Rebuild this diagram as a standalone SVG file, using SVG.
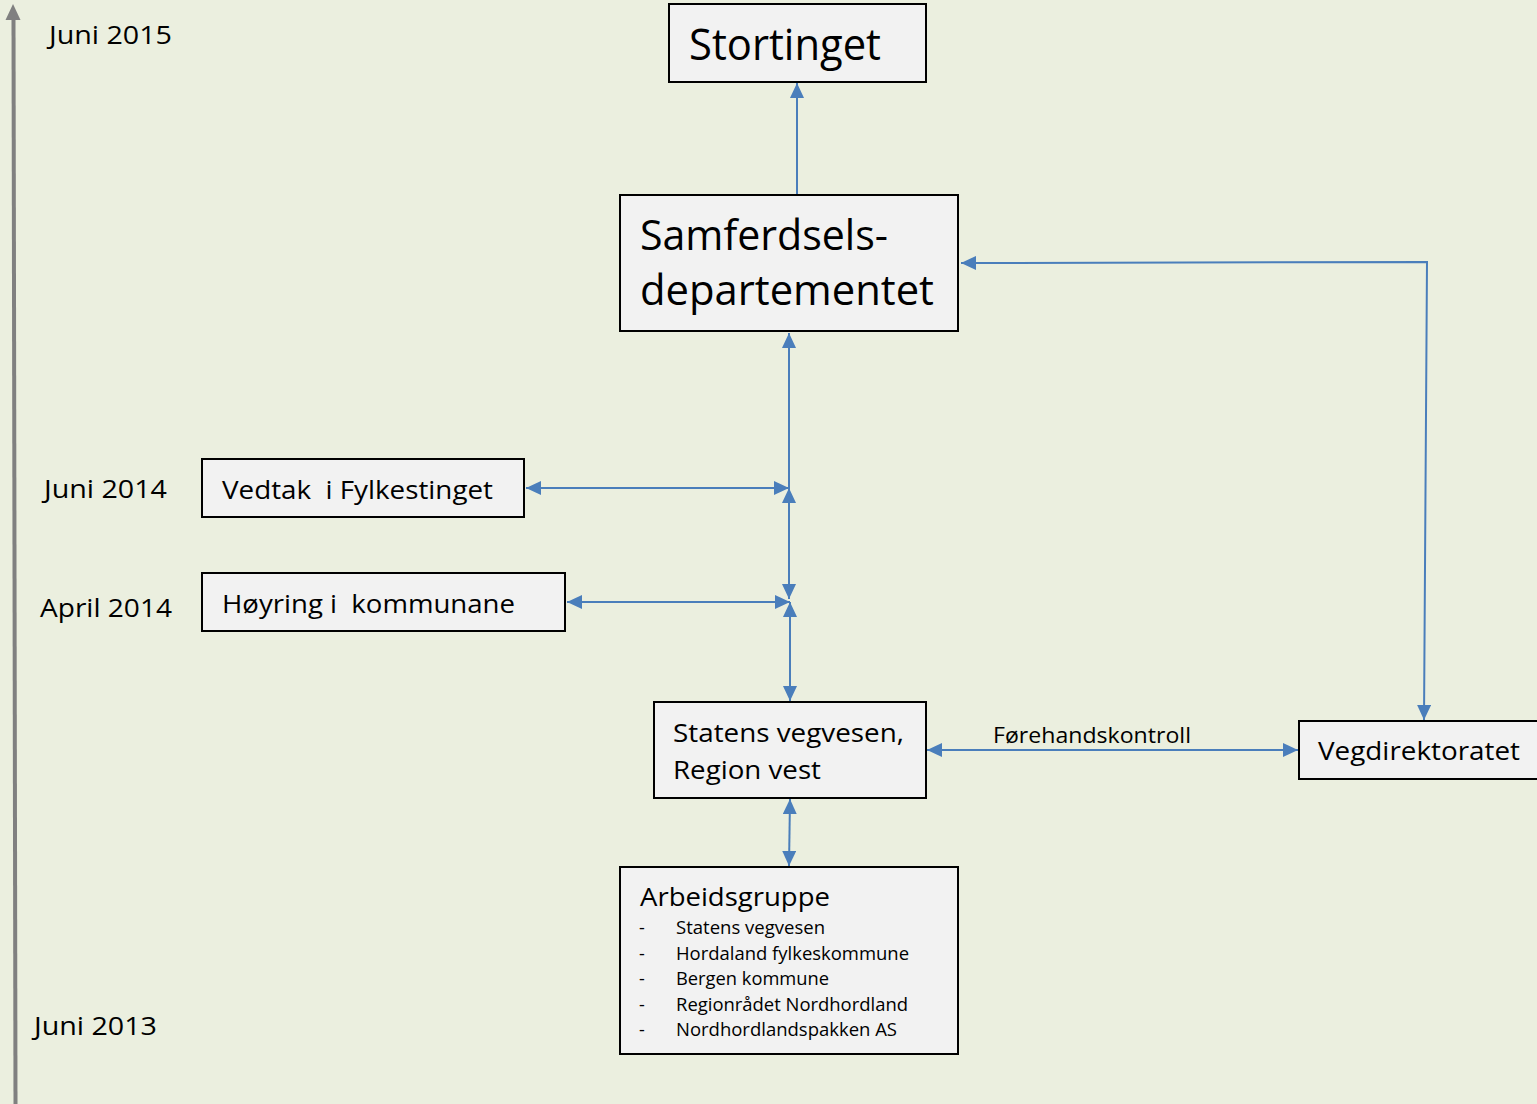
<svg xmlns="http://www.w3.org/2000/svg" width="1537" height="1104" viewBox="0 0 1537 1104">
<style>
text{font-family:"Open Sans","Noto Sans","Liberation Sans",sans-serif;fill:#000}
.box{fill:#F2F2F2;stroke:#000;stroke-width:2}
.con{fill:none;stroke:#4A7EBB;stroke-width:2}
</style>
<defs>
<marker id="ah" viewBox="0 0 15 14" refX="15" refY="7" markerWidth="15" markerHeight="14" markerUnits="userSpaceOnUse" orient="auto-start-reverse">
<path d="M0,0 L15,7 L0,14 z" fill="#4A7EBB"/>
</marker>
</defs>
<rect x="0" y="0" width="1537" height="1104" fill="#EBEFDF"/>
<g id="timeline">
<line x1="13.5" y1="18" x2="15.5" y2="1104" stroke="#808080" stroke-width="4"/>
<path d="M13,4 L20.5,20 L5.5,20 z" fill="#808080"/>
<text x="49" y="44" font-size="26" textLength="123" lengthAdjust="spacingAndGlyphs">Juni 2015</text>
<text x="44" y="498" font-size="26" textLength="123" lengthAdjust="spacingAndGlyphs">Juni 2014</text>
<text x="40" y="617" font-size="26" textLength="132" lengthAdjust="spacingAndGlyphs">April 2014</text>
<text x="34" y="1035" font-size="26" textLength="123" lengthAdjust="spacingAndGlyphs">Juni 2013</text>
</g>
<g id="connectors">
<line class="con" x1="797" y1="195" x2="797" y2="83" marker-end="url(#ah)"/>
<line class="con" x1="789" y1="488" x2="789" y2="333" marker-end="url(#ah)"/>
<line class="con" x1="526" y1="488" x2="789" y2="488" marker-start="url(#ah)" marker-end="url(#ah)"/>
<line class="con" x1="789" y1="488" x2="789" y2="599" marker-start="url(#ah)" marker-end="url(#ah)"/>
<line class="con" x1="567" y1="602" x2="790" y2="602" marker-start="url(#ah)" marker-end="url(#ah)"/>
<line class="con" x1="790" y1="602" x2="790" y2="701" marker-start="url(#ah)" marker-end="url(#ah)"/>
<polyline class="con" points="961,263 1427,262 1424,720" marker-start="url(#ah)" marker-end="url(#ah)"/>
<line class="con" x1="927" y1="750" x2="1298" y2="750" marker-start="url(#ah)" marker-end="url(#ah)"/>
<line class="con" x1="790" y1="799" x2="789" y2="866" marker-start="url(#ah)" marker-end="url(#ah)"/>
<text x="993" y="743" font-size="22" textLength="198" lengthAdjust="spacingAndGlyphs">Førehandskontroll</text>
</g>
<g id="stortinget">
<rect class="box" x="669" y="4" width="257" height="78"/>
<text x="689" y="60" font-size="44" textLength="192" lengthAdjust="spacingAndGlyphs">Stortinget</text>
</g>
<g id="samferdsel">
<rect class="box" x="620" y="195" width="338" height="136"/>
<text x="640" y="250" font-size="42" textLength="248" lengthAdjust="spacingAndGlyphs">Samferdsels-</text>
<text x="640" y="305" font-size="42" textLength="294" lengthAdjust="spacingAndGlyphs">departementet</text>
</g>
<g id="vedtak">
<rect class="box" x="202" y="459" width="322" height="58"/>
<text x="222" y="499" font-size="26" xml:space="preserve" textLength="271" lengthAdjust="spacingAndGlyphs">Vedtak  i Fylkestinget</text>
</g>
<g id="hoyring">
<rect class="box" x="202" y="573" width="363" height="58"/>
<text x="222" y="613" font-size="26" xml:space="preserve" textLength="293" lengthAdjust="spacingAndGlyphs">Høyring i  kommunane</text>
</g>
<g id="statens">
<rect class="box" x="654" y="702" width="272" height="96"/>
<text x="673" y="742" font-size="26" textLength="231" lengthAdjust="spacingAndGlyphs">Statens vegvesen,</text>
<text x="673" y="779" font-size="26" textLength="148" lengthAdjust="spacingAndGlyphs">Region vest</text>
</g>
<g id="vegdirektoratet">
<rect class="box" x="1299" y="721" width="250" height="58"/>
<text x="1318" y="760" font-size="26" textLength="202" lengthAdjust="spacingAndGlyphs">Vegdirektoratet</text>
</g>
<g id="arbeidsgruppe">
<rect class="box" x="620" y="867" width="338" height="187"/>
<text x="640" y="906" font-size="26" textLength="190" lengthAdjust="spacingAndGlyphs">Arbeidsgruppe</text>
<g font-size="18">
<text x="639" y="934">-</text>
<text x="676" y="934" textLength="149" lengthAdjust="spacingAndGlyphs">Statens vegvesen</text>
<text x="639" y="960">-</text>
<text x="676" y="960" textLength="233" lengthAdjust="spacingAndGlyphs">Hordaland fylkeskommune</text>
<text x="639" y="985">-</text>
<text x="676" y="985" textLength="153" lengthAdjust="spacingAndGlyphs">Bergen kommune</text>
<text x="639" y="1011">-</text>
<text x="676" y="1011" textLength="232" lengthAdjust="spacingAndGlyphs">Regionrådet Nordhordland</text>
<text x="639" y="1036">-</text>
<text x="676" y="1036" textLength="221" lengthAdjust="spacingAndGlyphs">Nordhordlandspakken AS</text>
</g>
</g>
</svg>
